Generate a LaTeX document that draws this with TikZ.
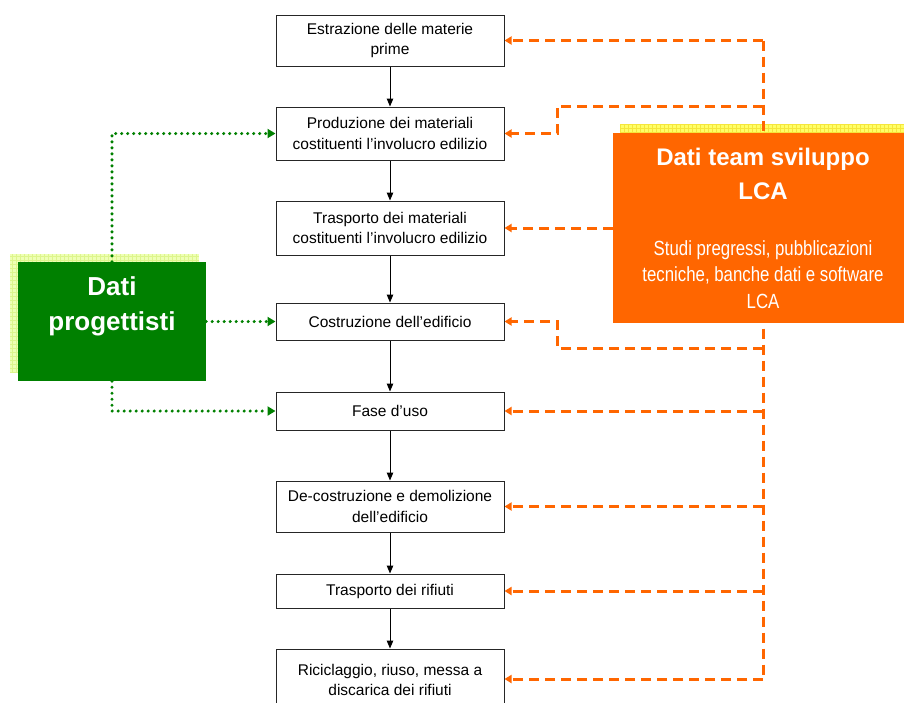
\documentclass[tikz,border=0pt]{standalone}
\usepackage{fontspec}
\setmainfont{Liberation Sans}
\newfontfamily\narrowfont[FakeStretch=0.82]{Liberation Sans}
\usetikzlibrary{arrows.meta}
\definecolor{orng}{HTML}{FF6600}
\definecolor{grn}{HTML}{008000}
\definecolor{gshadow}{HTML}{EEFFB4}
\definecolor{gshgrid}{HTML}{DDF58C}
\definecolor{oshadow}{HTML}{FFFF66}
\definecolor{oshgrid}{HTML}{F5E63C}
\pgfdeclarelayer{shadowlayer}
\pgfdeclarelayer{linelayer}
\pgfsetlayers{shadowlayer,linelayer,main}
\begin{document}
\begin{tikzpicture}[x=1pt,y=-1pt,
  stage/.style={draw=black!85, line width=1pt, fill=white, minimum width=228pt,
    align=center, inner sep=0pt, font=\fontsize{15.5}{20.5}\selectfont},
  flow/.style={-{Triangle[length=8pt,width=6.5pt]}, line width=1pt, black},
  odash/.style={draw=orng, line width=3pt, dash pattern=on 10pt off 6pt},
  oarrow/.style={odash, -{Triangle[length=7pt,width=8pt]}},
  gdot/.style={draw=grn, line width=3.4pt, line cap=round, dash pattern=on 0pt off 6pt,
    -{Triangle[length=8pt,width=9pt,line cap=butt]}},
]
\useasboundingbox (0,0) rectangle (904,702);
% stage boxes
\node[stage, minimum height=51pt] (b1) at (390,40.5) {Estrazione delle materie\\prime};
\node[stage, minimum height=53pt] (b2) at (390,133.5) {Produzione dei materiali\\costituenti l’involucro edilizio};
\node[stage, minimum height=54pt] (b3) at (390,228) {Trasporto dei materiali\\costituenti l’involucro edilizio};
\node[stage, minimum height=37pt] (b4) at (390,321.5) {Costruzione dell’edificio};
\node[stage, minimum height=38pt] (b5) at (390,411) {Fase d’uso};
\node[stage, minimum height=51pt] (b6) at (390,506.5) {De-costruzione e demolizione\\dell’edificio};
\node[stage, minimum height=34pt] (b7) at (390,591) {Trasporto dei rifiuti};
\node[stage, minimum height=62pt] (b8) at (390,680) {Riciclaggio, riuso, messa a\\discarica dei rifiuti};
\draw[flow] (b1) -- (b2);
\draw[flow] (b2) -- (b3);
\draw[flow] (b3) -- (b4);
\draw[flow] (b4) -- (b5);
\draw[flow] (b5) -- (b6);
\draw[flow] (b6) -- (b7);
\draw[flow] (b7) -- (b8);
% shadows
\begin{pgfonlayer}{shadowlayer}
  \fill[gshadow] (10,254) rectangle (199,373);
  \draw[gshgrid, line width=0.5pt, step=4pt] (10,254) grid (199,373);
  \fill[oshadow] (620,124) rectangle (910,318);
  \draw[oshgrid, line width=0.5pt, step=4pt] (620,124) grid (910,318);
\end{pgfonlayer}
% source boxes
\node[fill=grn, minimum width=188pt, minimum height=119pt, inner sep=0pt] (g) at (112,321.5) {};
\node[text=white, align=center, anchor=north, inner sep=0pt,
  font=\bfseries\fontsize{26}{35}\selectfont] (gt) at (112,276.5) {Dati\\progettisti};
\node[fill=orng, minimum width=297pt, minimum height=190pt, inner sep=0pt] (o) at (761.5,228) {};
\node[text=white, align=center, anchor=north, inner sep=0pt,
  font=\bfseries\fontsize{24}{34}\selectfont] (ot) at (763,147.8) {Dati team sviluppo\\LCA};
\node[text=white, align=center, anchor=north, inner sep=0pt,
  font=\narrowfont\fontsize{20.5}{26.5}\selectfont] (os) at (763,240.2) {Studi pregressi, pubblicazioni\\tecniche, banche dati e software\\LCA};
% orange connectors
\coordinate (v1) at (763,40.5);
\coordinate (v8) at (763,679);
\coordinate (c2) at (763,106);
\coordinate (k2) at (557,106);
\coordinate (c4) at (763,348);
\coordinate (k4) at (557,348);
\begin{pgfonlayer}{linelayer}
  \draw[odash] (v1) -- (v8);
  \draw[oarrow] (v1) -- (b1.east);
  \draw[oarrow] (c2) -- (k2) |- (b2.east);
  \draw[oarrow] (b3.east -| o.west) -- (b3.east);
  \draw[oarrow] (c4) -- (k4) |- (b4.east);
  \draw[oarrow] (b5.east -| v1) -- (b5.east);
  \draw[oarrow] (b6.east -| v1) -- (b6.east);
  \draw[oarrow] (b7.east -| v1) -- (b7.east);
  \draw[oarrow] (v8) -- (v8 -| b8.east);
  % green connectors
  \draw[gdot] (g.north) |- (b2.west);
  \draw[gdot] (g.east) -- (b4.west);
  \draw[gdot] (g.south) |- (b5.west);
\end{pgfonlayer}
\end{tikzpicture}
\end{document}
